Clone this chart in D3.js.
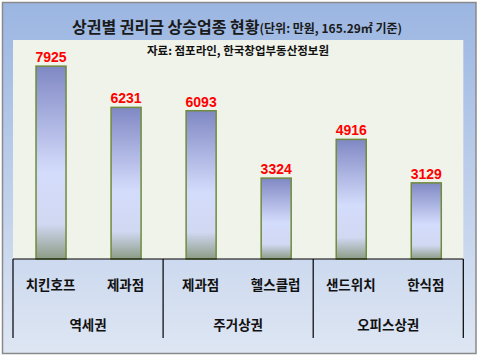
<!DOCTYPE html>
<html><head><meta charset="utf-8">
<script src="https://cdn.jsdelivr.net/npm/d3@7"></script>
<style>body{margin:0;background:#fff;}svg{display:block;}</style>
</head><body>
<script>
const groups = ["역세권", "주거상권", "오피스상권"];
const categories = ["치킨호프", "제과점", "제과점", "헬스클럽", "샌드위치", "한식점"];
const categoryGroups = ["역세권", "역세권", "주거상권", "주거상권", "오피스상권", "오피스상권"];
const values = [7925, 6231, 6093, 3324, 4916, 3129];
const titleMain = "상권별 권리금 상승업종 현황";
const titleSub = "(단위: 만원, 165.29㎡ 기준)";
const sourceText = "자료: 점포라인, 한국창업부동산정보원";

const W = 478, H = 356;
const svg = d3.select("body").append("svg").attr("width", W).attr("height", H);
const defs = svg.append("defs");
const bg = defs.append("linearGradient").attr("id","bg").attr("x1",0).attr("y1",0).attr("x2",0).attr("y2",1);
bg.append("stop").attr("offset","0%").attr("stop-color","#9bb6e2");
bg.append("stop").attr("offset","100%").attr("stop-color","#dee6f3");
const bar = defs.append("linearGradient").attr("id","bar").attr("x1",0).attr("y1",0).attr("x2",0).attr("y2",1);
bar.append("stop").attr("offset","0%").attr("stop-color","#8088c4");
bar.append("stop").attr("offset","55%").attr("stop-color","#d4dcfc");
bar.append("stop").attr("offset","82%").attr("stop-color","#d0d8f2");
bar.append("stop").attr("offset","100%").attr("stop-color","#8c9c86");

svg.append("rect").attr("x",2.5).attr("y",2.5).attr("width",473.5).attr("height",351)
  .attr("fill","url(#bg)").attr("stroke","#8a8a8a").attr("stroke-width",1.5);

const plot = {l:13, r:463.3, t:40, b:259};
svg.append("rect").attr("x",plot.l).attr("y",plot.t).attr("width",plot.r-plot.l).attr("height",plot.b-plot.t)
  .attr("fill","#f0f3ea");

const x = d3.scaleBand().domain(d3.range(categories.length)).range([plot.l, plot.r]).padding(0);
const y = d3.scaleLinear().domain([0, 9000]).range([plot.b, plot.t]);
const bw = x.bandwidth()*0.4;

svg.selectAll("rect.bar").data(values).join("rect").attr("class","bar")
  .attr("x",(d,i)=>x(i)+x.bandwidth()/2-bw/2+0.5)
  .attr("y",d=>y(d)).attr("width",bw).attr("height",d=>y(0)-y(d))
  .attr("fill","url(#bar)").attr("stroke","#6f8c3c").attr("stroke-width",1.5);

svg.selectAll("text.val").data(values).join("text").attr("class","val")
  .attr("x",(d,i)=>x(i)+x.bandwidth()/2+0.5).attr("y",d=>y(d)-4)
  .attr("text-anchor","middle").attr("fill","#ff0000")
  .attr("font-family","'Liberation Sans', Arial, sans-serif").attr("font-weight","bold").attr("font-size","14px")
  .text(d=>d);

svg.append("line").attr("x1",plot.l).attr("x2",plot.r).attr("y1",plot.b).attr("y2",plot.b)
  .attr("stroke","#000").attr("stroke-width",1.2);
const groupStarts = groups.map(g=>categoryGroups.indexOf(g));
const dividers = groupStarts.map(i=>x(i)).concat([plot.r]);
svg.selectAll("line.div").data(dividers).join("line").attr("class","div")
  .attr("x1",d=>d).attr("x2",d=>d).attr("y1",plot.b).attr("y2",338)
  .attr("stroke","#000").attr("stroke-width",1.2);

const kfont = "'Noto Sans CJK KR', 'Noto Sans', sans-serif";
svg.selectAll("text.cat").data(categories).join("text").attr("class","cat")
  .attr("x",(d,i)=>x(i)+x.bandwidth()/2).attr("y",290)
  .attr("text-anchor","middle").attr("font-family",kfont).attr("font-weight","bold").attr("font-size","13.5px")
  .attr("fill","#111").text(d=>d);

svg.selectAll("text.grp").data(groups).join("text").attr("class","grp")
  .attr("x",(g)=>{const idx=d3.range(categories.length).filter(i=>categoryGroups[i]===g);return (x(idx[0])+x(idx[idx.length-1])+x.bandwidth())/2;})
  .attr("y",329.5).attr("text-anchor","middle").attr("font-family",kfont).attr("font-weight","bold").attr("font-size","13.5px")
  .attr("fill","#111").text(d=>d);

const t = svg.append("text").attr("x",72).attr("y",33).attr("font-family",kfont).attr("font-weight","bold").attr("fill","#1a1a1a");
t.append("tspan").attr("font-size","16px").text(titleMain);
t.append("tspan").attr("font-size","12px").text(titleSub);

svg.append("text").attr("x",238).attr("y",54.5).attr("text-anchor","middle").attr("font-family",kfont)
  .attr("font-weight","bold").attr("font-size","11.5px").attr("fill","#111").text(sourceText);
</script>
</body></html>
